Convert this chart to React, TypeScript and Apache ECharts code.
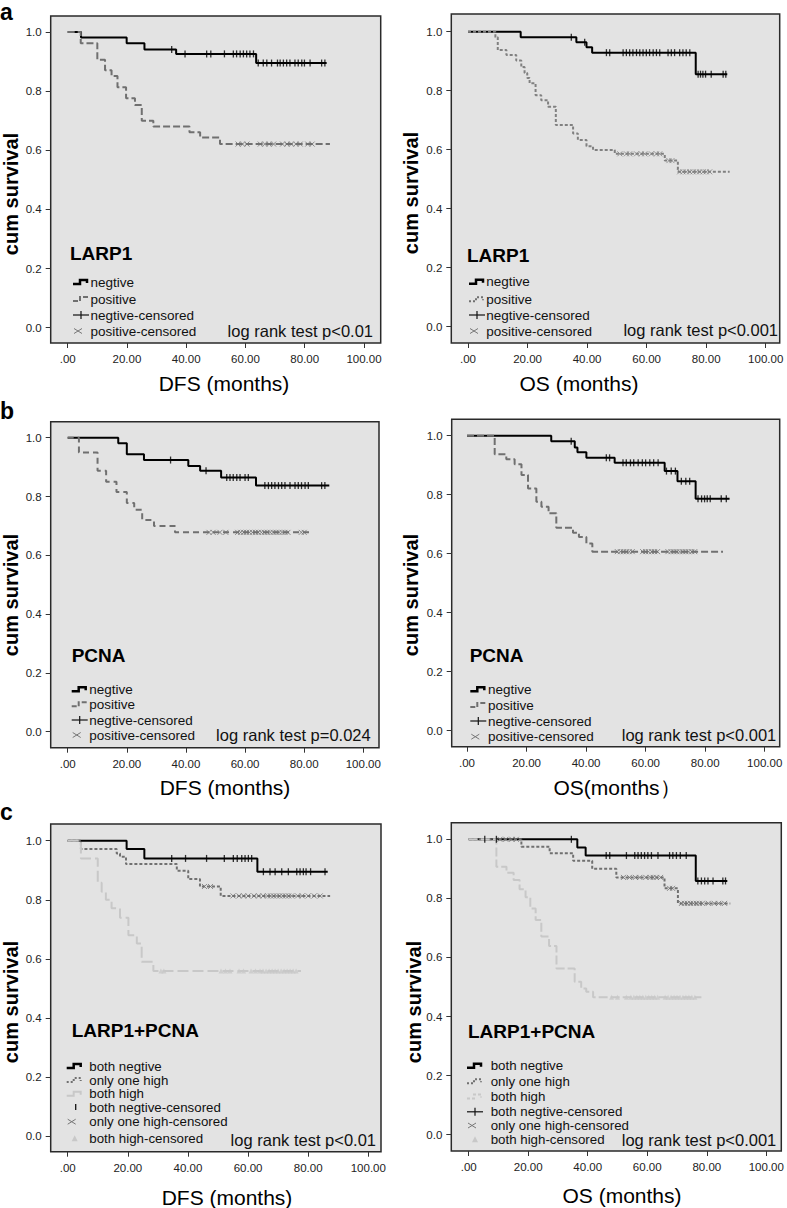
import React, { useEffect, useRef } from "react";
import * as echarts from "echarts";

const FONT = '"Liberation Sans", Arial, Helvetica, sans-serif';

// ================= DATA (months, cumulative survival) =================
const xTickValues = [0, 20, 40, 60, 80, 100];
const yTickValues = [0, 0.2, 0.4, 0.6, 0.8, 1.0];

// a – LARP1, DFS
const aDfsNegTimes = [0, 4.5, 19.9, 25.9, 36.6, 63.6, 87.4];
const aDfsNegSurv = [1, 0.981, 0.962, 0.941, 0.926, 0.895, 0.895];
const aDfsNegCens = [35.1, 39.6, 46.9, 48.3, 52.9, 55.9, 57.0, 58.2, 59.3, 60.4, 61.5, 62.7, 64.3, 66.0, 67.2, 68.8, 70.8, 71.7, 72.8, 73.9, 75.0, 76.7, 77.8, 79.0, 79.9, 81.8, 85.7, 86.8];
const aDfsPosTimes = [0, 4.4, 10.0, 12.6, 14.8, 16.8, 19.7, 22.7, 25.0, 28.9, 41.1, 44.7, 51.4, 88.5];
const aDfsPosSurv = [1, 0.962, 0.906, 0.871, 0.851, 0.813, 0.776, 0.753, 0.7, 0.68, 0.661, 0.643, 0.621, 0.621];
const aDfsPosCens = [57.5, 59, 60.5, 65, 66.5, 68, 69.5, 72.5, 74, 75.5, 77, 78.5, 81, 82.5];

// a – LARP1, OS
const aOsNegTimes = [0, 17.7, 36.4, 39.8, 41.7, 76.5, 87.1];
const aOsNegSurv = [1, 0.981, 0.964, 0.947, 0.929, 0.856, 0.856];
const aOsNegCens = [34.7, 39.2, 46.5, 47.6, 52.1, 53.2, 54.3, 55.4, 56.6, 57.7, 58.8, 59.9, 61.0, 62.2, 63.3, 64.4, 67.2, 68.3, 69.4, 71.1, 72.2, 73.3, 74.5, 77.3, 78.1, 78.9, 79.8, 81.7, 85.7, 86.6];
const aOsPosTimes = [0, 9.2, 10.0, 12.9, 16.2, 17.9, 19.0, 19.9, 20.7, 22.7, 24.6, 26.9, 29.5, 35.3, 36.9, 39.8, 42.0, 49.3, 66.1, 70.5, 87.9];
const aOsPosSurv = [1, 0.981, 0.938, 0.921, 0.902, 0.88, 0.86, 0.843, 0.825, 0.785, 0.768, 0.746, 0.684, 0.655, 0.633, 0.612, 0.599, 0.586, 0.563, 0.525, 0.525];
const aOsPosCens = [51, 53.2, 54.3, 56.6, 58.2, 59.4, 61.6, 63.3, 64.4, 67.5, 68.5, 71.1, 72.2, 73.3, 74.5, 75.6, 76.7, 77.8, 79, 80, 81.2];

// b – PCNA, DFS
const bDfsNegTimes = [0, 17.1, 20.0, 25.8, 40.8, 44.8, 51.9, 63.7, 88.5];
const bDfsNegSurv = [1, 0.981, 0.944, 0.924, 0.904, 0.888, 0.865, 0.837, 0.837];
const bDfsNegCens = [34.8, 46.8, 53.8, 54.9, 56.0, 57.2, 58.3, 60.0, 61.1, 66.7, 67.9, 69.0, 70.1, 71.3, 72.4, 73.5, 75.2, 76.9, 78.0, 79.1, 80.3, 81.4, 85.9, 87.0];
const bDfsPosTimes = [0, 3.8, 10.1, 13.0, 16.5, 20.0, 22.5, 25.2, 29.2, 36.3, 82.0];
const bDfsPosSurv = [1, 0.95, 0.888, 0.85, 0.815, 0.778, 0.755, 0.72, 0.7, 0.678, 0.678];
const bDfsPosCens = [47.8, 49.2, 51.5, 53.5, 57.5, 58.5, 59.5, 60.5, 61.5, 62.5, 63.5, 64.5, 65.5, 66.5, 67.5, 68.5, 69.5, 70.5, 71.5, 72.5, 73.5, 74.5, 79, 80];

// b – PCNA, OS
const bOsNegTimes = [0, 28.3, 36.2, 37.1, 40.1, 49.6, 66.4, 70.7, 76.8, 88.2];
const bOsNegSurv = [1, 0.981, 0.96, 0.944, 0.925, 0.908, 0.88, 0.846, 0.786, 0.786];
const bOsNegCens = [35.0, 46.8, 47.9, 52.4, 53.5, 54.9, 56.0, 57.5, 58.9, 60.0, 61.4, 62.7, 64.2, 67.0, 68.6, 70.0, 72.0, 73.5, 74.8, 77.6, 78.8, 79.8, 80.7, 81.7, 85.4, 87.1];
const bOsPosTimes = [0, 9.3, 13.2, 16.0, 18.3, 20.5, 23.3, 25.0, 27.4, 30.0, 35.6, 37.6, 40.1, 42.1, 86.0];
const bOsPosSurv = [1, 0.937, 0.92, 0.903, 0.867, 0.821, 0.776, 0.759, 0.737, 0.688, 0.671, 0.657, 0.635, 0.607, 0.607];
const bOsPosCens = [50.5, 51.5, 52.5, 53.5, 54.5, 55.5, 59, 60, 61, 62, 63, 64, 67.5, 68.5, 69.5, 70.5, 71.5, 72.5, 73.5, 74.5, 75.5, 76.5];

// c – LARP1+PCNA, DFS
const cDfsBnTimes = [0, 19.6, 25.5, 63.1, 86.5];
const cDfsBnSurv = [1, 0.972, 0.94, 0.895, 0.895];
const cDfsBnCens = [34.6, 39.2, 46.2, 52.1, 55.1, 56.4, 57.9, 59.0, 60.1, 61.2, 65.1, 67.3, 69.0, 71.2, 73.4, 76.2, 77.3, 78.4, 79.3, 80.8, 85.6];
const cDfsOhTimes = [0, 4.4, 16.3, 17.4, 19.4, 36.3, 40.1, 44.0, 50.9, 87.3];
const cDfsOhSurv = [1, 0.972, 0.957, 0.946, 0.921, 0.898, 0.87, 0.845, 0.813, 0.813];
const cDfsOhCens = [45.5, 47.5, 55, 57, 58.5, 60, 62, 63.5, 65, 66.5, 67.5, 68.5, 69.5, 70.5, 71.5, 72.5, 73.5, 74.5, 76.5, 78, 80, 82, 84];
const cDfsBhTimes = [0, 4.4, 10.0, 11.3, 12.7, 14.6, 17.4, 20.2, 23.0, 24.6, 28.5, 77.6];
const cDfsBhSurv = [1, 0.94, 0.858, 0.827, 0.8, 0.771, 0.739, 0.68, 0.652, 0.59, 0.559, 0.559];
const cDfsBhCens = [31, 32, 51, 52.5, 54, 57, 58.5, 61, 62.5, 64, 65, 66, 67, 68, 69, 70, 71, 72, 73, 74, 75, 76];

// c – LARP1+PCNA, OS
const cOsBnTimes = [0, 36.5, 39.3, 76.3, 86.9];
const cOsBnSurv = [1, 0.972, 0.945, 0.859, 0.859];
const cOsBnCens = [5.4, 9.3, 34.5, 46.2, 47.4, 53.0, 55.8, 56.9, 58.0, 59.1, 60.2, 61.4, 63.6, 67.5, 68.6, 69.8, 71.1, 73.1, 77.0, 78.2, 79.3, 80.4, 82.1, 85.4, 86.3];
const cOsOhTimes = [0, 17.7, 27.2, 35.1, 41.5, 49.6, 65.8, 70.3, 87.9];
const cOsOhSurv = [1, 0.975, 0.953, 0.927, 0.9, 0.871, 0.834, 0.783, 0.783];
const cOsOhCens = [10.5, 12.5, 14.5, 16, 52, 54, 56, 57.5, 59.5, 61, 62, 63, 64.5, 67.5, 68.5, 71.5, 72.5, 73.5, 74.5, 75.5, 76.5, 77.5, 78.5, 80.5, 82.5, 84, 86];
const cOsBhTimes = [0, 9.3, 12.7, 15.1, 17.1, 19.1, 20.7, 22.5, 24.4, 27.0, 29.5, 35.6, 37.8, 39.5, 41.8, 78.2];
const cOsBhSurv = [1, 0.907, 0.887, 0.862, 0.831, 0.804, 0.766, 0.727, 0.671, 0.639, 0.563, 0.518, 0.495, 0.484, 0.465, 0.465];
const cOsBhCens = [48, 50, 53, 54.5, 55.5, 56.5, 57.5, 58.5, 59.5, 60.5, 61.5, 62.5, 63.5, 66, 67, 68, 69, 70, 71, 72, 73, 74, 75, 76];

// ================= LAYOUT / STYLE =================
const BLACK = "#000000";
const DARK = "#707070";
const LIGHT = "#c8c8c8";

type Box = { L: number; R: number; T: number; B: number; px0: number; px100: number; py1: number; py0: number };

type Group = {
  times: number[]; surv: number[]; cens: number[];
  color: string; width: number; dash: number[] | null;
  censor: "plus" | "cross" | "tri";
};

type LegendItem = { kind: "step" | "plus" | "cross" | "bar" | "tri"; label: string; color?: string; dash?: number[] | null; width?: number };

type Panel = {
  box: Box; letter?: { text: string; x: number; y: number };
  xTitle: { text: string; x: number; y: number };
  yTitle: { x: number; y: number };
  title: { text: string; x: number; y: number };
  legend: { iconX: number; textX: number; rows: number[]; items: LegendItem[]; fontSize: number };
  logrank: { text: string; right: number; y: number };
  groups: Group[];
};

const panels: Panel[] = [
  {
    box: { L: 50.7, R: 380.7, T: 16, B: 343, px0: 67.7, px100: 364, py1: 32, py0: 327.7 },
    letter: { text: "a", x: 0, y: 12 },
    xTitle: { text: "DFS (months)", x: 224, y: 383 },
    yTitle: { x: 11, y: 194 },
    title: { text: "LARP1", x: 70, y: 253 },
    legend: {
      iconX: 73, textX: 90.5, rows: [282, 299, 315, 331], fontSize: 13.5,
      items: [
        { kind: "step", label: "negtive", color: BLACK, dash: null, width: 2.5 },
        { kind: "step", label: "positive", color: DARK, dash: [5, 2], width: 2 },
        { kind: "plus", label: "negtive-censored" },
        { kind: "cross", label: "positive-censored" },
      ],
    },
    logrank: { text: "log rank test p<0.01", right: 373, y: 331 },
    groups: [
      { times: aDfsNegTimes, surv: aDfsNegSurv, cens: aDfsNegCens, color: BLACK, width: 2, dash: null, censor: "plus" },
      { times: aDfsPosTimes, surv: aDfsPosSurv, cens: aDfsPosCens, color: DARK, width: 2, dash: [7, 3], censor: "cross" },
    ],
  },
  {
    box: { L: 451.3, R: 779.7, T: 14, B: 343, px0: 468, px100: 765.7, py1: 31.7, py0: 326.7 },
    xTitle: { text: "OS (months)", x: 579, y: 383 },
    yTitle: { x: 411, y: 193 },
    title: { text: "LARP1", x: 467, y: 255 },
    legend: {
      iconX: 469, textX: 486.3, rows: [281.7, 299.3, 315, 331], fontSize: 13.5,
      items: [
        { kind: "step", label: "negtive", color: BLACK, dash: null, width: 2.5 },
        { kind: "step", label: "positive", color: DARK, dash: [2, 2], width: 2 },
        { kind: "plus", label: "negtive-censored" },
        { kind: "cross", label: "positive-censored" },
      ],
    },
    logrank: { text: "log rank test p<0.001", right: 778, y: 330 },
    groups: [
      { times: aOsNegTimes, surv: aOsNegSurv, cens: aOsNegCens, color: BLACK, width: 2, dash: null, censor: "plus" },
      { times: aOsPosTimes, surv: aOsPosSurv, cens: aOsPosCens, color: "#808080", width: 2, dash: [3, 2], censor: "cross" },
    ],
  },
  {
    box: { L: 50.7, R: 379, T: 421.7, B: 747.7, px0: 67.7, px100: 363.3, py1: 437.7, py0: 731.7 },
    letter: { text: "b", x: 0, y: 411 },
    xTitle: { text: "DFS (months)", x: 225, y: 787 },
    yTitle: { x: 11, y: 595 },
    title: { text: "PCNA", x: 71.7, y: 655 },
    legend: {
      iconX: 71.7, textX: 89.3, rows: [689.3, 704.3, 720, 735], fontSize: 13.5,
      items: [
        { kind: "step", label: "negtive", color: BLACK, dash: null, width: 2.5 },
        { kind: "step", label: "positive", color: DARK, dash: [5, 2], width: 2 },
        { kind: "plus", label: "negtive-censored" },
        { kind: "cross", label: "positive-censored" },
      ],
    },
    logrank: { text: "log rank test p=0.024", right: 370.7, y: 735 },
    groups: [
      { times: bDfsNegTimes, surv: bDfsNegSurv, cens: bDfsNegCens, color: BLACK, width: 2, dash: null, censor: "plus" },
      { times: bDfsPosTimes, surv: bDfsPosSurv, cens: bDfsPosCens, color: DARK, width: 2, dash: [6, 4], censor: "cross" },
    ],
  },
  {
    box: { L: 451.7, R: 779.7, T: 419.3, B: 746.7, px0: 467, px100: 764.7, py1: 435.7, py0: 730.7 },
    xTitle: { text: "OS(months）", x: 617, y: 787 },
    yTitle: { x: 411, y: 595 },
    title: { text: "PCNA", x: 469.7, y: 655 },
    legend: {
      iconX: 470.3, textX: 488, rows: [689.3, 705, 721, 736.7], fontSize: 13.5,
      items: [
        { kind: "step", label: "negtive", color: BLACK, dash: null, width: 2.5 },
        { kind: "step", label: "positive", color: DARK, dash: [5, 2], width: 2 },
        { kind: "plus", label: "negtive-censored" },
        { kind: "cross", label: "positive-censored" },
      ],
    },
    logrank: { text: "log rank test p<0.001", right: 776.3, y: 735 },
    groups: [
      { times: bOsNegTimes, surv: bOsNegSurv, cens: bOsNegCens, color: BLACK, width: 2, dash: null, censor: "plus" },
      { times: bOsPosTimes, surv: bOsPosSurv, cens: bOsPosCens, color: DARK, width: 2, dash: [7, 3], censor: "cross" },
    ],
  },
  {
    box: { L: 50.7, R: 381, T: 824, B: 1151.7, px0: 67.7, px100: 368.3, py1: 840.7, py0: 1136 },
    letter: { text: "c", x: 0, y: 811.5 },
    xTitle: { text: "DFS (months)", x: 227, y: 1197 },
    yTitle: { x: 11, y: 1002 },
    title: { text: "LARP1+PCNA", x: 71.7, y: 1030 },
    legend: {
      iconX: 66.7, textX: 89.3, rows: [1066, 1080, 1093.7, 1107, 1121.7, 1138.3], fontSize: 13.3,
      items: [
        { kind: "step", label: "both negtive", color: BLACK, dash: null, width: 2.5 },
        { kind: "step", label: "only one high", color: DARK, dash: [2, 2], width: 2 },
        { kind: "step", label: "both high", color: LIGHT, dash: null, width: 2 },
        { kind: "bar", label: "both negtive-censored" },
        { kind: "cross", label: "only one high-censored" },
        { kind: "tri", label: "both high-censored" },
      ],
    },
    logrank: { text: "log rank test p<0.01", right: 376, y: 1140 },
    groups: [
      { times: cDfsBnTimes, surv: cDfsBnSurv, cens: cDfsBnCens, color: BLACK, width: 2, dash: null, censor: "plus" },
      { times: cDfsOhTimes, surv: cDfsOhSurv, cens: cDfsOhCens, color: DARK, width: 2, dash: [3, 2], censor: "cross" },
      { times: cDfsBhTimes, surv: cDfsBhSurv, cens: cDfsBhCens, color: LIGHT, width: 2, dash: [11, 4], censor: "tri" },
    ],
  },
  {
    box: { L: 451.3, R: 781.3, T: 822.7, B: 1151, px0: 468.7, px100: 766.3, py1: 839.3, py0: 1134.7 },
    xTitle: { text: "OS (months)", x: 622, y: 1195 },
    yTitle: { x: 414, y: 1002 },
    title: { text: "LARP1+PCNA", x: 468, y: 1031.7 },
    legend: {
      iconX: 467, textX: 490.7, rows: [1065.7, 1081.2, 1096.5, 1111.8, 1125.5, 1139.3], fontSize: 13.3,
      items: [
        { kind: "step", label: "both negtive", color: BLACK, dash: null, width: 2.5 },
        { kind: "step", label: "only one high", color: DARK, dash: [2, 2], width: 2 },
        { kind: "step", label: "both high", color: LIGHT, dash: [3, 2], width: 2 },
        { kind: "plus", label: "both negtive-censored" },
        { kind: "cross", label: "only one high-censored" },
        { kind: "tri", label: "both high-censored" },
      ],
    },
    logrank: { text: "log rank test p<0.001", right: 776.3, y: 1140 },
    groups: [
      { times: cOsBnTimes, surv: cOsBnSurv, cens: cOsBnCens, color: BLACK, width: 2, dash: null, censor: "plus" },
      { times: cOsOhTimes, surv: cOsOhSurv, cens: cOsOhCens, color: DARK, width: 2, dash: [3, 2], censor: "cross" },
      { times: cOsBhTimes, surv: cOsBhSurv, cens: cOsBhCens, color: LIGHT, width: 2, dash: [9, 3], censor: "tri" },
    ],
  },
];

// ================= HELPERS =================
function survAt(times: number[], surv: number[], t: number): number {
  let s = surv[0];
  for (let i = 0; i < times.length; i++) {
    if (times[i] <= t) s = surv[i];
  }
  return s;
}

function legendIcon(item: LegendItem, x: number, y: number): any[] {
  const z = 100;
  if (item.kind === "step") {
    return [{
      type: "polyline", z,
      shape: { points: [[x, y + 2], [x + 7, y + 2], [x + 7, y - 2], [x + 14, y - 2], [x + 14, y + 1]] },
      style: { stroke: item.color, lineWidth: item.width, fill: "none", lineDash: item.dash || null },
    }];
  }
  if (item.kind === "plus") {
    return [
      { type: "line", z, shape: { x1: x, y1: y, x2: x + 16, y2: y }, style: { stroke: "#111", lineWidth: 1.2 } },
      { type: "line", z, shape: { x1: x + 8, y1: y - 4, x2: x + 8, y2: y + 4 }, style: { stroke: "#111", lineWidth: 1.2 } },
    ];
  }
  if (item.kind === "bar") {
    return [{ type: "line", z, shape: { x1: x + 9, y1: y - 3, x2: x + 9, y2: y + 3 }, style: { stroke: "#111", lineWidth: 1.3 } }];
  }
  if (item.kind === "cross") {
    return [
      { type: "line", z, shape: { x1: x + 1, y1: y - 2.5, x2: x + 9, y2: y + 2.5 }, style: { stroke: "#777", lineWidth: 1 } },
      { type: "line", z, shape: { x1: x + 1, y1: y + 2.5, x2: x + 9, y2: y - 2.5 }, style: { stroke: "#777", lineWidth: 1 } },
    ];
  }
  return [{
    type: "polygon", z,
    shape: { points: [[x + 8, y - 3], [x + 5, y + 3], [x + 11, y + 3]] },
    style: { fill: LIGHT },
  }];
}

function buildOption() {
  const grid: any[] = [];
  const xAxis: any[] = [];
  const yAxis: any[] = [];
  const series: any[] = [];
  const graphic: any[] = [];

  panels.forEach((p, i) => {
    const b = p.box;
    const xs = 100 / (b.px100 - b.px0);
    const ys = 1 / (b.py0 - b.py1);
    const xMin = -(b.px0 - b.L) * xs;
    const xMax = 100 + (b.R - b.px100) * xs;
    const yMax = 1 + (b.py1 - b.T) * ys;
    const yMin = -(b.B - b.py0) * ys;

    grid.push({
      left: b.L, top: b.T, width: b.R - b.L, height: b.B - b.T,
      show: true, backgroundColor: "#e3e3e3", borderColor: "#2a2a2a", borderWidth: 1.5,
    });
    xAxis.push({
      gridIndex: i, type: "value", min: xMin, max: xMax, position: "bottom",
      axisLine: { show: false, onZero: false }, splitLine: { show: false },
      axisTick: { show: true, inside: false, length: 5, customValues: xTickValues, lineStyle: { color: "#333", width: 1 } },
      axisLabel: {
        customValues: xTickValues, margin: 10, fontSize: 11.5, color: "#222", fontFamily: FONT,
        formatter: (v: number) => (v === 0 ? ".00" : v.toFixed(2)),
      },
    });
    yAxis.push({
      gridIndex: i, type: "value", min: yMin, max: yMax, position: "left",
      axisLine: { show: false, onZero: false }, splitLine: { show: false },
      axisTick: { show: true, inside: false, length: 5, customValues: yTickValues, lineStyle: { color: "#333", width: 1 } },
      axisLabel: {
        customValues: yTickValues, margin: 9, fontSize: 11.5, color: "#222", fontFamily: FONT,
        formatter: (v: number) => v.toFixed(1),
      },
    });

    p.groups.forEach((g) => {
      series.push({
        type: "line", xAxisIndex: i, yAxisIndex: i, step: "end", symbol: "none", silent: true, z: 2,
        lineStyle: { color: g.color, width: g.width, type: g.dash || "solid" },
        data: g.times.map((t, k) => [t, g.surv[k]]),
      });
    });
    p.groups.forEach((g) => {
      const data = g.cens.map((t) => [t, survAt(g.times, g.surv, t)]);
      let sym: any;
      if (g.censor === "plus") {
        sym = { symbol: "rect", symbolSize: [1.3, 7], itemStyle: { color: g.color } };
      } else if (g.censor === "cross") {
        sym = {
          symbol: "path://M0,0L10,10M10,0L0,10", symbolSize: [5, 5],
          itemStyle: { color: "rgba(0,0,0,0)", borderColor: g.color, borderWidth: 1 },
        };
      } else {
        sym = { symbol: "triangle", symbolSize: [5, 5], itemStyle: { color: g.color } };
      }
      series.push({
        type: "scatter", xAxisIndex: i, yAxisIndex: i, silent: true, z: 3, data, ...sym,
      });
    });

    // texts
    if (p.letter) {
      graphic.push({
        type: "text", z: 100, x: p.letter.x, y: p.letter.y,
        style: { text: p.letter.text, fontSize: 23, fontWeight: "bold", fontFamily: FONT, fill: "#000", align: "left", verticalAlign: "middle" },
      });
    }
    graphic.push({
      type: "text", z: 100, x: p.xTitle.x, y: p.xTitle.y,
      style: { text: p.xTitle.text, fontSize: 21, fontFamily: FONT, fill: "#000", align: "center", verticalAlign: "middle" },
    });
    graphic.push({
      type: "text", z: 100, x: p.yTitle.x, y: p.yTitle.y, rotation: Math.PI / 2,
      style: { text: "cum survival", fontSize: 20, fontWeight: "bold", fontFamily: FONT, fill: "#000", align: "center", verticalAlign: "middle" },
    });
    graphic.push({
      type: "text", z: 100, x: p.title.x, y: p.title.y,
      style: { text: p.title.text, fontSize: 19, fontWeight: "bold", fontFamily: FONT, fill: "#000", align: "left", verticalAlign: "middle" },
    });
    p.legend.items.forEach((it, k) => {
      const y = p.legend.rows[k];
      legendIcon(it, p.legend.iconX, y).forEach((e) => graphic.push(e));
      graphic.push({
        type: "text", z: 100, x: p.legend.textX, y,
        style: { text: it.label, fontSize: p.legend.fontSize, fontFamily: FONT, fill: "#111", align: "left", verticalAlign: "middle" },
      });
    });
    graphic.push({
      type: "text", z: 100, x: p.logrank.right, y: p.logrank.y,
      style: { text: p.logrank.text, fontSize: 16.5, fontFamily: FONT, fill: "#111", align: "right", verticalAlign: "middle" },
    });
  });

  return {
    animation: false,
    backgroundColor: "#ffffff",
    grid, xAxis, yAxis, series, graphic,
  };
}

export default function App() {
  const ref = useRef<HTMLDivElement>(null);
  useEffect(() => {
    if (!ref.current) return;
    const chart = echarts.init(ref.current, undefined, { renderer: "svg" });
    chart.setOption(buildOption() as any);
    return () => chart.dispose();
  }, []);
  return (
    <div
      ref={ref}
      style={{ position: "absolute", left: 0, top: 0, width: 787, height: 1208, background: "#fff" }}
    />
  );
}
